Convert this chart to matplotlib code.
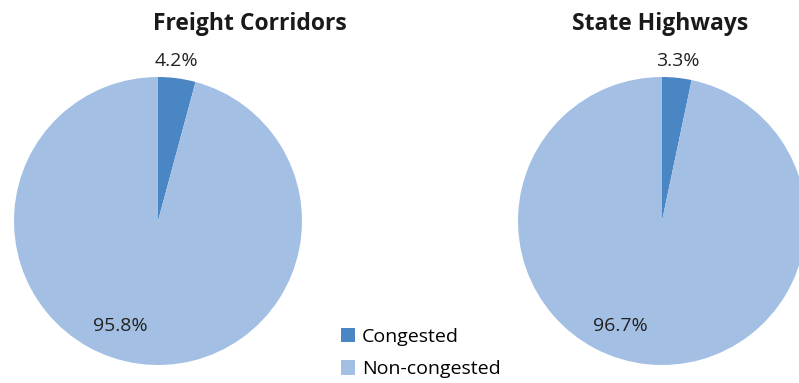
import matplotlib.pyplot as plt

# congestion share per network
categories = ['Congested', 'Non-congested']
networks = ['Freight Corridors', 'State Highways']
freight = [4.2, 95.8]
state = [3.3, 96.7]
colors = ['#4A86C3', '#A3C0E4']

plt.rcParams['font.family'] = ['Open Sans', 'DejaVu Sans']

W, H = 799, 383
fig = plt.figure(figsize=(W / 100, H / 100), dpi=100)

R = 144
centers = [(158, 221), (662, 221)]
# label offsets (in pie radii) for each slice
offsets = [[(0.13, 1.11), (-0.26, -0.73)],
           [(0.11, 1.11), (-0.29, -0.73)]]
title_x = [250, 660]

wedges_all = []
for (cx, cy), vals, name, offs, tx in zip(centers, [freight, state], networks, offsets, title_x):
    ax = fig.add_axes([(cx - R) / W, (H - cy - R) / H, 2 * R / W, 2 * R / H])
    wedges, _ = ax.pie(vals, colors=colors, startangle=90, counterclock=False,
                       radius=1.0, wedgeprops=dict(linewidth=0))
    ax.set_xlim(-1, 1)
    ax.set_ylim(-1, 1)
    ax.set_aspect('equal')
    ax.axis('off')
    for v, (ox, oy) in zip(vals, offs):
        ax.text(ox, oy, f'{v:.1f}%', ha='center', va='center',
                fontsize=14, color='#222222', clip_on=False)
    fig.text(tx / W, 1 - 24 / H, name, ha='center', va='center',
             fontsize=16.5, fontweight='bold', color='#1a1a1a')
    wedges_all.append(wedges)

fig.legend(wedges_all[0], categories, loc='center left',
           bbox_to_anchor=(331 / W, 1 - 353 / H), frameon=False,
           fontsize=14, handlelength=0.75, handleheight=0.75,
           handletextpad=0.35, labelspacing=0.75, borderpad=0)

fig.savefig('out.png', dpi=100, facecolor='white')
